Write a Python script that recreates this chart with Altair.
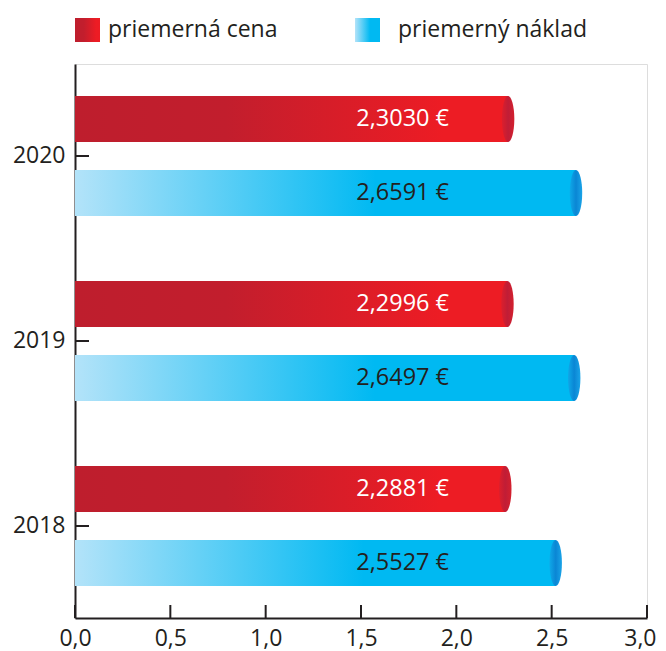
import altair as alt
import pandas as pd

years = ["2020", "2019", "2018"]
series = ["priemerná cena", "priemerný náklad"]
cena = [2.3030, 2.2996, 2.2881]
naklad = [2.6591, 2.6497, 2.5527]
x_ticks = [0.0, 0.5, 1.0, 1.5, 2.0, 2.5, 3.0]

rows = []
for yr, c, n in zip(years, cena, naklad):
    for s, v in ((series[0], c), (series[1], n)):
        rows.append({"year": yr, "series": s, "value": v,
                     "label": f"{v:.4f}".replace(".", ",") + " €"})
df = pd.DataFrame(rows)

DARK = "#231f20"
FONT = "Open Sans"


def grad(stops):
    return alt.Gradient(gradient="linear", x1=0, y1=0, x2=1, y2=0,
                        stops=[alt.GradientStop(offset=o, color=c) for o, c in stops])


red_grad = grad([(0, "#be1e2d"), (0.35, "#c21e2d"), (0.85, "#ed1c24"), (1, "#ed1c24")])
blue_grad = grad([(0, "#b3e3f9"), (0.6, "#00b9f2"), (1, "#00b9f2")])
red_cap = grad([(0, "#dc1f2c"), (0.5, "#c01d36"), (1, "#d4202e")])
blue_cap = grad([(0, "#0fa8e8"), (0.5, "#0a86d4"), (1, "#1aa4e8")])
ELLIPSE = "M0,-1 A0.27,1 0 1,1 0,1 A0.27,1 0 1,1 0,-1 Z"

X = alt.X("value:Q", scale=alt.Scale(domain=[0, 3], nice=False, zero=True),
          axis=alt.Axis(values=x_ticks, title=None, grid=False, ticks=False,
                        labelFlush=False, labelPadding=9, labelFontSize=23,
                        labelColor=DARK, labelFont=FONT, domainColor=DARK, domainWidth=2,
                        labelAlign={"condition": {"test": "datum.value >= 3", "value": "right"},
                                    "value": "center"},
                        labelOffset={"condition": {"test": "datum.value >= 3", "value": 9},
                                     "value": 0},
                        labelExpr="replace(format(datum.value, '.1f'), '.', ',')"))
Y = alt.Y("year:N", sort=years,
          scale=alt.Scale(paddingInner=0.351, paddingOuter=0.173),
          axis=alt.Axis(title=None, ticks=False, labelPadding=10, labelFontSize=23,
                        labelColor=DARK, labelFont=FONT, domainColor=DARK, domainWidth=2))
YOFF = alt.YOffset("series:N", sort=series,
                   scale=alt.Scale(paddingInner=0.378, paddingOuter=0))

base = alt.Chart(df)
layers = []
for s, g, cap in ((series[0], red_grad, red_cap), (series[1], blue_grad, blue_cap)):
    sub = base.transform_filter(alt.datum.series == s)
    layers.append(sub.mark_bar(fill=g, xOffset=-6).encode(
        x=X, x2=alt.X2(datum=0), y=Y, yOffset=YOFF))
    layers.append(sub.mark_point(shape=ELLIPSE, filled=True, size=2116, fill=cap,
                                 opacity=1, strokeWidth=0, xOffset=-6).encode(
        x=X, y=Y, yOffset=YOFF))

labels = base.mark_text(align="left", baseline="middle", fontSize=23.5, font=FONT).encode(
    x=alt.datum(1.475), y=Y, yOffset=YOFF, text="label:N",
    color=alt.condition(alt.datum.series == series[0], alt.value("white"), alt.value(DARK)))
layers.append(labels)

xt = alt.Chart(pd.DataFrame({"value": x_ticks})).mark_rule(color=DARK, strokeWidth=2).encode(
    x=X, y=alt.value(541), y2=alt.value(554))
yt = alt.Chart(pd.DataFrame({"year": years})).mark_rule(color=DARK, strokeWidth=2).encode(
    y=Y, x=alt.value(0), x2=alt.value(14))
layers += [xt, yt]

leg = pd.DataFrame({"series": series})
for s, g, x0, tx in ((series[0], red_grad, 0, 33), (series[1], blue_grad, 280, 323)):
    lb = alt.Chart(leg).transform_filter(alt.datum.series == s)
    layers.append(lb.mark_rect(fill=g).encode(
        x=alt.value(x0), x2=alt.value(x0 + 25), y=alt.value(-46), y2=alt.value(-22)))
    layers.append(lb.mark_text(align="left", baseline="middle", fontSize=23, font=FONT,
                               color=DARK).encode(
        text="series:N", x=alt.value(tx), y=alt.value(-34)))

chart = alt.layer(*layers).properties(
    width=572, height=554,
    padding={"left": 67, "top": 56, "right": 10, "bottom": 36},
    autosize=alt.AutoSizeParams(type="none"),
    background="white",
).configure_view(stroke=None).configure(font=FONT)

chart.save("out.html", embed_options={"renderer": "svg", "actions": False})
